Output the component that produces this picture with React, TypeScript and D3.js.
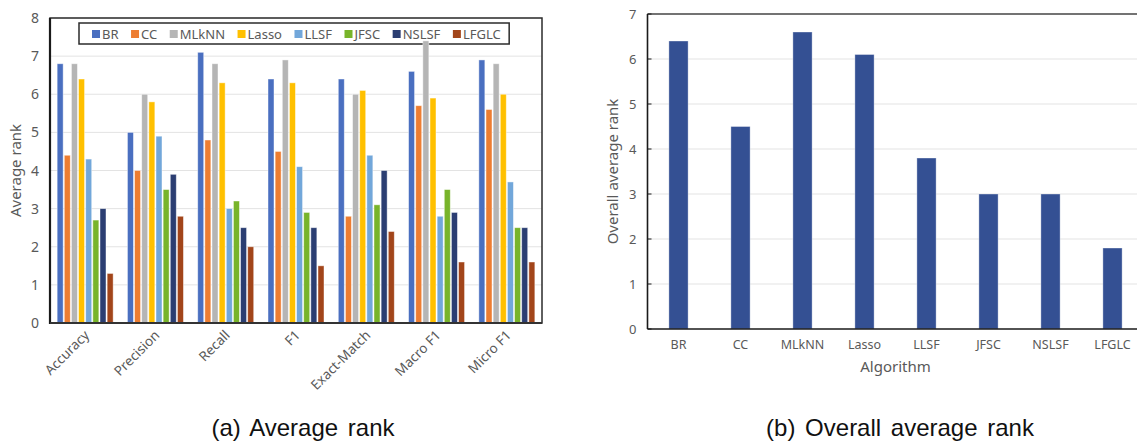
import React, { useEffect, useRef } from 'react';
import * as d3 from 'd3';

const metrics = ['Accuracy', 'Precision', 'Recall', 'F1', 'Exact-Match', 'Macro F1', 'Micro F1'];
const algorithms = ['BR', 'CC', 'MLkNN', 'Lasso', 'LLSF', 'JFSC', 'NSLSF', 'LFGLC'];

// average rank of each algorithm on each metric (same order as metrics)
const brRanks = [6.8, 5.0, 7.1, 6.4, 6.4, 6.6, 6.9];
const ccRanks = [4.4, 4.0, 4.8, 4.5, 2.8, 5.7, 5.6];
const mlknnRanks = [6.8, 6.0, 6.8, 6.9, 6.0, 7.4, 6.8];
const lassoRanks = [6.4, 5.8, 6.3, 6.3, 6.1, 5.9, 6.0];
const llsfRanks = [4.3, 4.9, 3.0, 4.1, 4.4, 2.8, 3.7];
const jfscRanks = [2.7, 3.5, 3.2, 2.9, 3.1, 3.5, 2.5];
const nslsfRanks = [3.0, 3.9, 2.5, 2.5, 4.0, 2.9, 2.5];
const lfglcRanks = [1.3, 2.8, 2.0, 1.5, 2.4, 1.6, 1.6];

// overall average rank (same order as algorithms)
const overallRanks = [6.4, 4.5, 6.6, 6.1, 3.8, 3.0, 3.0, 1.8];

const leftTicks = [0, 1, 2, 3, 4, 5, 6, 7, 8];
const rightTicks = [0, 1, 2, 3, 4, 5, 6, 7];

const seriesColors = ['#4A6FC0', '#ED7D31', '#B5B5B5', '#FFC000', '#72A7DA', '#78B42A', '#2B3E72', '#A2451A'];
const overallColor = '#345093';
const textColor = '#595959';
const font = '"Noto Sans", "DejaVu Sans", sans-serif';

const App = () => {
  const svgRef = useRef<SVGSVGElement>(null);

  useEffect(() => {
    document.body.style.margin = '0';
    const svg = d3.select(svgRef.current);
    svg.selectAll('*').remove();

    const seriesValues = [brRanks, ccRanks, mlknnRanks, lassoRanks, llsfRanks, jfscRanks, nslsfRanks, lfglcRanks];

    // ---------- (a) Average rank ----------
    const a = { left: 50, right: 542, top: 18, bottom: 323 };
    const x0 = d3.scaleBand().domain(metrics).range([a.left, a.right]);
    const x1 = d3.scaleBand().domain(algorithms).range([0, x0.bandwidth()]).paddingInner(0.16).paddingOuter(1.0);
    const yA = d3.scaleLinear().domain([0, 8]).range([a.bottom, a.top]);

    const gA = svg.append('g');

    gA.selectAll('line.grid')
      .data(leftTicks.slice(1))
      .enter()
      .append('line')
      .attr('x1', a.left)
      .attr('x2', a.right)
      .attr('y1', d => yA(d))
      .attr('y2', d => yA(d))
      .attr('stroke', '#e3e3e3')
      .attr('stroke-width', 1);

    gA.selectAll('text.ytick')
      .data(leftTicks)
      .enter()
      .append('text')
      .attr('x', a.left - 11)
      .attr('y', d => yA(d) + 5)
      .attr('text-anchor', 'end')
      .attr('font-size', 14)
      .attr('font-family', font)
      .attr('fill', textColor)
      .text(d => d);

    // legend (bars are drawn over it)
    const legend = gA.append('g');
    const legendBox = legend.append('rect')
      .attr('fill', 'white')
      .attr('stroke', '#2b2b2b')
      .attr('stroke-width', 1.5);
    let cx = 92;
    algorithms.forEach((alg, i) => {
      legend.append('rect')
        .attr('x', cx)
        .attr('y', 30)
        .attr('width', 8)
        .attr('height', 8)
        .attr('fill', seriesColors[i]);
      const t = legend.append('text')
        .attr('x', cx + 10)
        .attr('y', 39)
        .attr('font-size', 13)
        .attr('font-family', font)
        .attr('fill', textColor)
        .text(alg);
      const w = (t.node() as SVGTextElement).getComputedTextLength();
      cx += 10 + w + 12.5;
    });
    legendBox
      .attr('x', 79)
      .attr('y', 23)
      .attr('width', cx - 79 - 4)
      .attr('height', 21);

    algorithms.forEach((alg, i) => {
      gA.selectAll(`rect.s${i}`)
        .data(seriesValues[i])
        .enter()
        .append('rect')
        .attr('x', (d, j) => x0(metrics[j])! + x1(alg)!)
        .attr('y', d => yA(d))
        .attr('width', x1.bandwidth())
        .attr('height', d => yA(0) - yA(d))
        .attr('fill', seriesColors[i])
        .attr('stroke', 'rgba(255,255,255,0.55)')
        .attr('stroke-width', 0.8);
    });

    // frame
    gA.append('rect')
      .attr('x', a.left)
      .attr('y', a.top)
      .attr('width', a.right - a.left)
      .attr('height', a.bottom - a.top)
      .attr('fill', 'none')
      .attr('stroke', '#2b2b2b')
      .attr('stroke-width', 1.5);
    gA.append('line')
      .attr('x1', a.left).attr('x2', a.left)
      .attr('y1', a.top).attr('y2', a.bottom + 1)
      .attr('stroke', '#1a1a1a').attr('stroke-width', 2.2);
    gA.append('line')
      .attr('x1', a.left).attr('x2', a.right)
      .attr('y1', a.bottom).attr('y2', a.bottom)
      .attr('stroke', '#333').attr('stroke-width', 2.2);

    gA.selectAll('text.xlab')
      .data(metrics)
      .enter()
      .append('text')
      .attr('transform', d => `translate(${x0(d)! + x0.bandwidth() / 2 + 5},${a.bottom + 13}) rotate(-45)`)
      .attr('text-anchor', 'end')
      .attr('font-size', 13.5)
      .attr('font-family', font)
      .attr('fill', textColor)
      .text(d => d);

    gA.append('text')
      .attr('transform', `translate(21,${(a.top + a.bottom) / 2}) rotate(-90)`)
      .attr('text-anchor', 'middle')
      .attr('font-size', 15)
      .attr('font-family', font)
      .attr('fill', textColor)
      .text('Average rank');

    // ---------- (b) Overall average rank ----------
    const b = { left: 647.5, right: 1143.5, top: 14, bottom: 329 };
    const xB = d3.scaleBand().domain(algorithms).range([b.left, b.right]).paddingInner(0.69).paddingOuter(0.345);
    const yB = d3.scaleLinear().domain([0, 7]).range([b.bottom, b.top]);
    const gB = svg.append('g');

    gB.selectAll('line.grid')
      .data(rightTicks.slice(1, -1))
      .enter()
      .append('line')
      .attr('x1', b.left)
      .attr('x2', b.right)
      .attr('y1', d => yB(d))
      .attr('y2', d => yB(d))
      .attr('stroke', '#e3e3e3')
      .attr('stroke-width', 1);

    gB.selectAll('rect.bar')
      .data(overallRanks)
      .enter()
      .append('rect')
      .attr('x', (d, i) => xB(algorithms[i])!)
      .attr('y', d => yB(d))
      .attr('width', xB.bandwidth())
      .attr('height', d => yB(0) - yB(d))
      .attr('fill', overallColor)
      .attr('stroke', 'rgba(255,255,255,0.45)')
      .attr('stroke-width', 0.8);

    gB.append('line')
      .attr('x1', b.left).attr('x2', b.right)
      .attr('y1', b.top).attr('y2', b.top)
      .attr('stroke', '#444').attr('stroke-width', 1.5);
    gB.append('line')
      .attr('x1', b.left).attr('x2', b.left)
      .attr('y1', b.top).attr('y2', b.bottom)
      .attr('stroke', '#1a1a1a').attr('stroke-width', 1.6);
    gB.append('line')
      .attr('x1', b.left).attr('x2', b.right)
      .attr('y1', b.bottom).attr('y2', b.bottom)
      .attr('stroke', '#1a1a1a').attr('stroke-width', 1.6);

    gB.selectAll('line.tick')
      .data(rightTicks)
      .enter()
      .append('line')
      .attr('x1', b.left)
      .attr('x2', b.left + 4)
      .attr('y1', d => yB(d))
      .attr('y2', d => yB(d))
      .attr('stroke', '#1a1a1a')
      .attr('stroke-width', 1);

    gB.selectAll('text.ytick')
      .data(rightTicks)
      .enter()
      .append('text')
      .attr('x', b.left - 11)
      .attr('y', d => yB(d) + 4.5)
      .attr('text-anchor', 'end')
      .attr('font-size', 13)
      .attr('font-family', font)
      .attr('fill', textColor)
      .text(d => d);

    gB.selectAll('text.xlab')
      .data(algorithms)
      .enter()
      .append('text')
      .attr('x', d => xB(d)! + xB.bandwidth() / 2)
      .attr('y', b.bottom + 20)
      .attr('text-anchor', 'middle')
      .attr('font-size', 12.5)
      .attr('font-family', font)
      .attr('fill', textColor)
      .text(d => d);

    gB.append('text')
      .attr('x', (b.left + b.right) / 2)
      .attr('y', b.bottom + 43)
      .attr('text-anchor', 'middle')
      .attr('font-size', 15)
      .attr('font-family', font)
      .attr('fill', textColor)
      .text('Algorithm');

    gB.append('text')
      .attr('transform', `translate(618,${(b.top + b.bottom) / 2}) rotate(-90)`)
      .attr('text-anchor', 'middle')
      .attr('font-size', 15)
      .attr('font-family', font)
      .attr('fill', textColor)
      .text('Overall average rank');

    // captions
    svg.append('text')
      .attr('x', 303)
      .attr('y', 436)
      .attr('text-anchor', 'middle')
      .attr('font-size', 24)
      .attr('word-spacing', 3)
      .attr('font-family', '"Liberation Sans", Arial, sans-serif')
      .attr('fill', '#111')
      .text('(a) Average rank');
    svg.append('text')
      .attr('x', 900)
      .attr('y', 436)
      .attr('text-anchor', 'middle')
      .attr('font-size', 24)
      .attr('word-spacing', 3)
      .attr('font-family', '"Liberation Sans", Arial, sans-serif')
      .attr('fill', '#111')
      .text('(b) Overall average rank');
  }, []);

  return (
    <div>
      <svg ref={svgRef} width={1137} height={441} style={{ display: 'block' }} />
    </div>
  );
};

export default App;
